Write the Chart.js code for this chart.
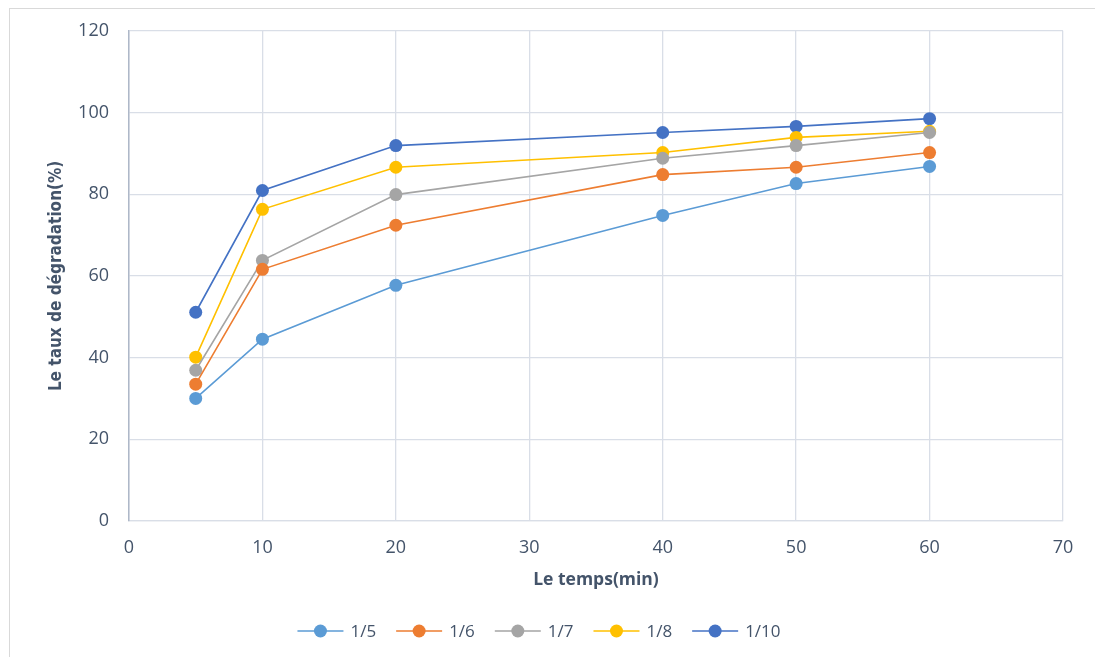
<!DOCTYPE html>
<html>
<head>
<meta charset="utf-8">
<script src="https://cdn.jsdelivr.net/npm/chart.js@4/dist/chart.umd.min.js"></script>
<style>
  html, body { margin: 0; padding: 0; background: #fff; }
  #wrap { width: 1095px; height: 657px; position: relative; }
</style>
</head>
<body>
<div id="wrap"><canvas id="c" width="1095" height="657"></canvas></div>
<script>
// Reaction time (min)
const times = [5, 10, 20, 40, 50, 60];
// Degradation rate (%) for each ratio
const r5  = [30.0, 44.5, 57.7, 74.8, 82.6, 86.8];
const r6  = [33.5, 61.6, 72.4, 84.8, 86.6, 90.2];
const r7  = [36.9, 63.8, 79.9, 88.8, 91.9, 95.1];
const r8  = [40.1, 76.3, 86.6, 90.2, 93.9, 95.4];
const r10 = [51.1, 80.9, 91.9, 95.1, 96.6, 98.5];
const seriesLabels = ['1/5', '1/6', '1/7', '1/8', '1/10'];
const seriesColors = ['#5B9BD5', '#ED7D31', '#A5A5A5', '#FFC000', '#4472C4'];
const xTicks = [0, 10, 20, 30, 40, 50, 60, 70];
const yTicks = [0, 20, 40, 60, 80, 100, 120];

const TEXT = '#44546A';
const GRID = '#D9DEE7';
const FONT = "'Open Sans', 'Noto Sans', sans-serif";

const allSeries = [r5, r6, r7, r8, r10];
const datasets = allSeries.map((vals, i) => ({
  label: seriesLabels[i],
  data: times.map((t, j) => ({ x: t, y: vals[j] })),
  borderColor: seriesColors[i],
  backgroundColor: seriesColors[i],
  pointBackgroundColor: seriesColors[i],
  pointBorderColor: seriesColors[i],
  pointRadius: 6.5,
  pointBorderWidth: 0,
  borderWidth: 1.6,
  tension: 0,
  fill: false
}));

// Outer frame behind everything
const framePlugin = {
  id: 'frame',
  beforeDraw(chart) {
    const ctx = chart.ctx;
    ctx.save();
    ctx.fillStyle = '#fff';
    ctx.fillRect(0, 0, chart.width, chart.height);
    ctx.strokeStyle = '#D9D9D9';
    ctx.lineWidth = 1;
    ctx.strokeRect(9.5, 8.5, chart.width, chart.height);
    ctx.restore();
  }
};

// Legend with line + marker samples, centred under the chart
const lineLegend = {
  id: 'lineLegend',
  afterDraw(chart) {
    const ctx = chart.ctx;
    ctx.save();
    ctx.font = '17px ' + FONT;
    const lineW = 46, gapText = 7, gapItem = 20;
    const items = chart.data.datasets.map(ds => ({
      label: ds.label, color: ds.borderColor, w: ctx.measureText(ds.label).width
    }));
    let total = 0;
    items.forEach((it, i) => { total += lineW + gapText + it.w + (i < items.length - 1 ? gapItem : 0); });
    let x = 539 - total / 2;
    const y = 631;
    items.forEach(it => {
      ctx.strokeStyle = it.color;
      ctx.lineWidth = 1.6;
      ctx.beginPath();
      ctx.moveTo(x, y);
      ctx.lineTo(x + lineW, y);
      ctx.stroke();
      ctx.fillStyle = it.color;
      ctx.beginPath();
      ctx.arc(x + lineW / 2, y, 6.5, 0, Math.PI * 2);
      ctx.fill();
      ctx.fillStyle = TEXT;
      ctx.textBaseline = 'middle';
      ctx.textAlign = 'left';
      ctx.fillText(it.label, x + lineW + gapText, y + 1);
      x += lineW + gapText + it.w + gapItem;
    });
    ctx.restore();
  }
};

new Chart(document.getElementById('c'), {
  type: 'line',
  data: { datasets },
  plugins: [framePlugin, lineLegend],
  options: {
    responsive: false,
    animation: false,
    layout: { padding: { left: 0, right: 32, top: 22, bottom: 62 } },
    plugins: {
      legend: { display: false },
      tooltip: { enabled: false }
    },
    scales: {
      x: {
        type: 'linear',
        min: 0, max: 70,
        afterBuildTicks(scale) { scale.ticks = xTicks.map(v => ({ value: v })); },
        grid: { color: GRID, lineWidth: 1.3, drawTicks: false },
        border: { color: GRID, width: 1.3 },
        ticks: { color: TEXT, font: { family: FONT, size: 18 }, padding: 16, maxRotation: 0 },
        title: {
          display: true, text: 'Le temps(min)', color: TEXT,
          font: { family: FONT, size: 17.5, weight: 'bold' }, padding: { top: 0 }
        },
        afterFit(scale) { scale.height = 74; }
      },
      y: {
        min: 0, max: 120,
        afterBuildTicks(scale) { scale.ticks = yTicks.map(v => ({ value: v })); },
        grid: { color: GRID, lineWidth: 1.3, drawTicks: false },
        border: { color: '#AEB8C8', width: 1.5 },
        ticks: { color: TEXT, font: { family: FONT, size: 18 }, padding: 20 },
        title: {
          display: true, text: 'Le taux de dégradation(%)', color: TEXT,
          font: { family: "'Liberation Sans Narrow', 'DejaVu Sans Condensed', sans-serif", size: 17, weight: 'bold' },
          padding: { top: 46, bottom: 0 }
        },
        afterFit(scale) { scale.width = 129; }
      }
    }
  }
});
</script>
</body>
</html>
